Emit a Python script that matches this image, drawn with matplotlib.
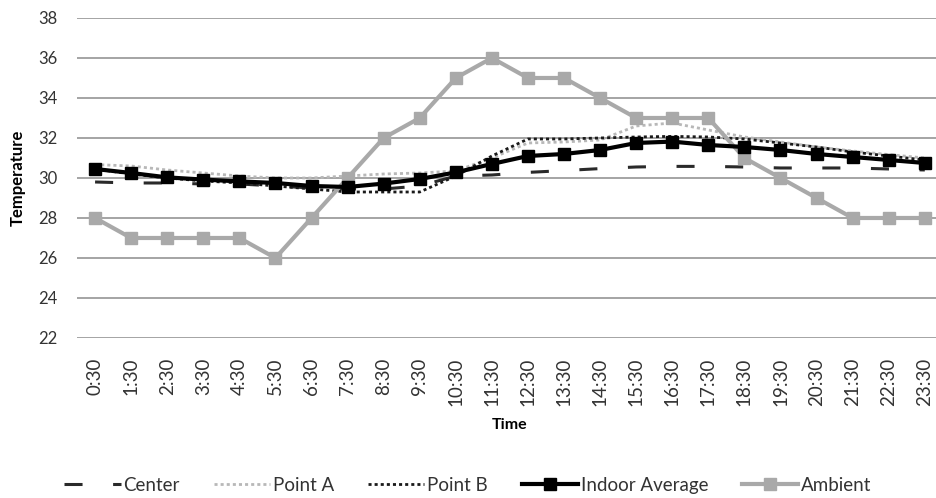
import numpy as np
import matplotlib
matplotlib.use("Agg")
import matplotlib.pyplot as plt

plt.rcParams['font.family'] = ['Lato', 'DejaVu Sans']
plt.rcParams['lines.scale_dashes'] = False

times = ["0:30", "1:30", "2:30", "3:30", "4:30", "5:30", "6:30", "7:30",
         "8:30", "9:30", "10:30", "11:30", "12:30", "13:30", "14:30", "15:30",
         "16:30", "17:30", "18:30", "19:30", "20:30", "21:30", "22:30", "23:30"]

center = [29.8, 29.75, 29.75, 29.7, 29.7, 29.6, 29.5, 29.45, 29.45, 29.6, 30.1, 30.15,
          30.28, 30.37, 30.47, 30.55, 30.58, 30.58, 30.55, 30.5, 30.5, 30.5, 30.45, 30.4]
point_a = [30.67, 30.6, 30.4, 30.25, 30.1, 30.0, 30.0, 30.1, 30.2, 30.25, 30.35, 31.0,
           31.75, 31.8, 31.9, 32.6, 32.75, 32.4, 32.05, 31.8, 31.55, 31.35, 31.17, 31.0]
point_b = [30.45, 30.2, 30.0, 29.85, 29.75, 29.6, 29.45, 29.3, 29.3, 29.3, 30.1, 31.1,
           31.95, 31.95, 32.0, 32.05, 32.08, 32.05, 31.95, 31.75, 31.55, 31.3, 31.1, 30.9]
indoor_avg = [30.45, 30.25, 30.03, 29.92, 29.83, 29.75, 29.6, 29.55, 29.72, 29.95, 30.28, 30.7,
              31.1, 31.2, 31.4, 31.75, 31.82, 31.65, 31.55, 31.4, 31.2, 31.05, 30.9, 30.75]
ambient = [28, 27, 27, 27, 27, 26, 28, 30, 32, 33, 35, 36,
           35, 35, 34, 33, 33, 33, 31, 30, 29, 28, 28, 28]

fig = plt.figure(figsize=(9.36, 4.98), dpi=100)
ax = fig.add_axes([0.0823, 0.3213, 0.925, 0.6426])

x = np.arange(len(times))

ax.plot(x, center, color='#2a2a2a', lw=2.2, dashes=(13, 22), label='Center', zorder=3)
ax.plot(x, point_a, color='#b8b8b8', lw=2.0, dashes=(2.2, 2.2), label='Point A', zorder=3)
ax.plot(x, point_b, color='#1a1a1a', lw=2.0, dashes=(2.2, 2.2), label='Point B', zorder=3)
ax.plot(x, indoor_avg, color='black', lw=3, marker='s', ms=9, label='Indoor Average', zorder=5)
ax.plot(x, ambient, color='#a9a9a9', lw=3, marker='s', ms=9, label='Ambient', zorder=4)

ax.set_xlim(-0.5, len(times) - 0.5)
ax.set_ylim(22, 38)
ax.set_yticks(np.arange(22, 39, 2))
ax.set_xticks(x)
ax.set_xticklabels(times, rotation=90, fontsize=13.5, color='#333333')
ax.tick_params(axis='y', labelsize=12, length=0, pad=14, labelcolor='#333333')
ax.tick_params(axis='x', length=0, pad=14)
ax.grid(axis='y', color='#8c8c8c', lw=1.1)
ax.set_axisbelow(True)
for s in ax.spines.values():
    s.set_visible(False)

ax.set_ylabel('Temperature', fontsize=12, fontweight='bold', labelpad=9)
ax.set_xlabel('Time', fontsize=11.5, fontweight='bold', labelpad=9)

fig.legend(loc='center', bbox_to_anchor=(0.5, 0.025), ncol=5, frameon=False,
           fontsize=13.5, handlelength=3.0, columnspacing=1.8, handletextpad=0.16,
           labelcolor='#333333')

fig.savefig('out.png', dpi=100)
